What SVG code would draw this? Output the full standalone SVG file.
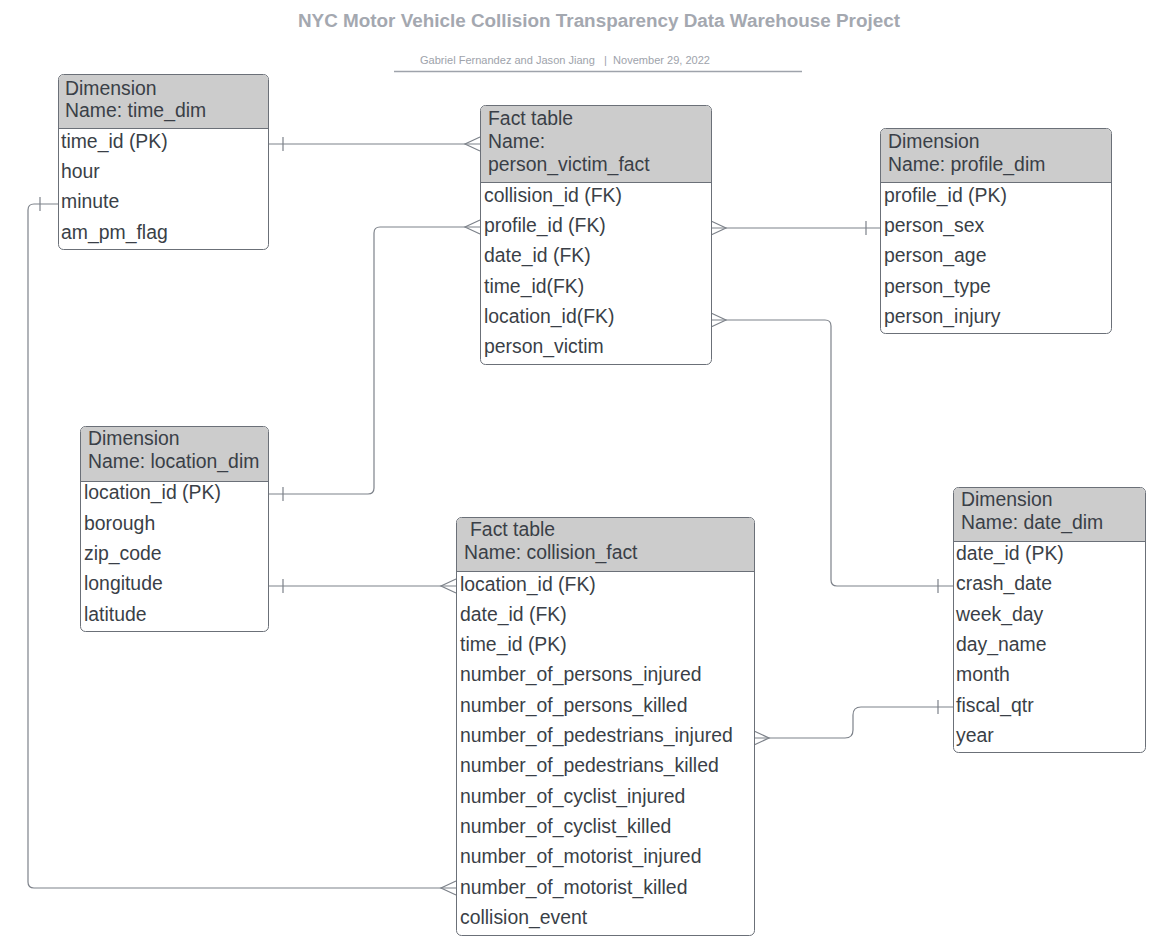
<svg xmlns="http://www.w3.org/2000/svg" width="1167" height="945" viewBox="0 0 1167 945">
<style>
.box{fill:#ffffff;stroke:#6b7078;stroke-width:1}
.hdr{fill:#cccccc}
.sep{stroke:#6b7078;stroke-width:1}
.t{font-family:"Liberation Sans",Arial,sans-serif;font-size:19.4px;fill:#3a3f47}
.c{fill:none;stroke:#7d828a;stroke-width:1.2}
.title{font-family:"Liberation Sans",Arial,sans-serif;font-size:18px;font-weight:bold;fill:#a4a8b0}
.sub{font-family:"Liberation Sans",Arial,sans-serif;font-size:11px;fill:#9ea3ab}
</style>
<rect width="1167" height="945" fill="#ffffff"/>
<g id="title">
<text class="title" x="599" y="27" text-anchor="middle" textLength="602" lengthAdjust="spacingAndGlyphs">NYC Motor Vehicle Collision Transparency Data Warehouse Project</text>
<text class="sub" x="565" y="64" text-anchor="middle" xml:space="preserve" textLength="290" lengthAdjust="spacingAndGlyphs">Gabriel Fernandez and Jason Jiang   |  November 29, 2022</text>
<line x1="394" y1="71.5" x2="802" y2="71.5" stroke="#9ea3ab" stroke-width="1.5"/>
</g>
<g id="connectors">
<path class="c" d="M268,144 H480"/>
<path class="c" d="M283,137 V151 M480,137 L465,144 L480,151"/>
<path class="c" d="M268,494 H368 Q374,494 374,488 V233 Q374,227 380,227 H480"/>
<path class="c" d="M283,487 V501 M480,220 L465,227 L480,234"/>
<path class="c" d="M711,228 H880"/>
<path class="c" d="M711,221 L726,228 L711,235 M866,221 V235"/>
<path class="c" d="M711,320 H825 Q831,320 831,326 V580 Q831,586 837,586 H953"/>
<path class="c" d="M711,313 L726,320 L711,327 M938,579 V593"/>
<path class="c" d="M268,586 H456"/>
<path class="c" d="M283,579 V593 M456,579 L441,586 L456,593"/>
<path class="c" d="M754,738 H845 Q853,738 853,730 V715 Q853,707 861,707 H953"/>
<path class="c" d="M754,731 L769,738 L754,745 M938,700 V714"/>
<path class="c" d="M58,204 H34 Q28,204 28,210 V882 Q28,888 34,888 H456"/>
<path class="c" d="M40,197 V211 M456,881 L441,888 L456,895"/>
</g>
<g id="time_dim">
<rect class="box" x="58.5" y="74.5" width="210" height="175" rx="5"/>
<path class="hdr" d="M63.5,75 H263.5 Q268,75 268,79.5 V128 H59 V79.5 Q59,75 63.5,75 Z"/>
<line class="sep" x1="58.5" y1="128.5" x2="268.5" y2="128.5"/>
<text class="t" x="65" y="95">Dimension</text>
<text class="t" x="65" y="117">Name: time_dim</text>
<text class="t" x="61" y="148">time_id (PK)</text>
<text class="t" x="61" y="178">hour</text>
<text class="t" x="61" y="208">minute</text>
<text class="t" x="61" y="239">am_pm_flag</text>
</g>
<g id="person_victim_fact">
<rect class="box" x="480.5" y="105.5" width="231" height="259" rx="5"/>
<path class="hdr" d="M485.5,106 H706.5 Q711,106 711,110.5 V182 H481 V110.5 Q481,106 485.5,106 Z"/>
<line class="sep" x1="480.5" y1="182.5" x2="711.5" y2="182.5"/>
<text class="t" x="488" y="125">Fact table</text>
<text class="t" x="488" y="148">Name:</text>
<text class="t" x="488" y="171">person_victim_fact</text>
<text class="t" x="484" y="202">collision_id (FK)</text>
<text class="t" x="484" y="232">profile_id (FK)</text>
<text class="t" x="484" y="262">date_id (FK)</text>
<text class="t" x="484" y="293">time_id(FK)</text>
<text class="t" x="484" y="323">location_id(FK)</text>
<text class="t" x="484" y="353">person_victim</text>
</g>
<g id="profile_dim">
<rect class="box" x="880.5" y="128.5" width="231" height="205" rx="5"/>
<path class="hdr" d="M885.5,129 H1106.5 Q1111,129 1111,133.5 V182 H881 V133.5 Q881,129 885.5,129 Z"/>
<line class="sep" x1="880.5" y1="182.5" x2="1111.5" y2="182.5"/>
<text class="t" x="888" y="148">Dimension</text>
<text class="t" x="888" y="171">Name: profile_dim</text>
<text class="t" x="884" y="202">profile_id (PK)</text>
<text class="t" x="884" y="232">person_sex</text>
<text class="t" x="884" y="262">person_age</text>
<text class="t" x="884" y="293">person_type</text>
<text class="t" x="884" y="323">person_injury</text>
</g>
<g id="location_dim">
<rect class="box" x="80.5" y="426.5" width="188" height="205" rx="5"/>
<path class="hdr" d="M85.5,427 H263.5 Q268,427 268,431.5 V481 H81 V431.5 Q81,427 85.5,427 Z"/>
<line class="sep" x1="80.5" y1="481.5" x2="268.5" y2="481.5"/>
<text class="t" x="88" y="445">Dimension</text>
<text class="t" x="88" y="468">Name: location_dim</text>
<text class="t" x="84" y="499">location_id (PK)</text>
<text class="t" x="84" y="530">borough</text>
<text class="t" x="84" y="560">zip_code</text>
<text class="t" x="84" y="590">longitude</text>
<text class="t" x="84" y="621">latitude</text>
</g>
<g id="collision_fact">
<rect class="box" x="456.5" y="517.5" width="298" height="418" rx="5"/>
<path class="hdr" d="M461.5,518 H749.5 Q754,518 754,522.5 V571 H457 V522.5 Q457,518 461.5,518 Z"/>
<line class="sep" x1="456.5" y1="571.5" x2="754.5" y2="571.5"/>
<text class="t" x="470" y="536">Fact table</text>
<text class="t" x="464" y="559">Name: collision_fact</text>
<text class="t" x="460" y="591">location_id (FK)</text>
<text class="t" x="460" y="621">date_id (FK)</text>
<text class="t" x="460" y="651">time_id (PK)</text>
<text class="t" x="460" y="681">number_of_persons_injured</text>
<text class="t" x="460" y="712">number_of_persons_killed</text>
<text class="t" x="460" y="742">number_of_pedestrians_injured</text>
<text class="t" x="460" y="772">number_of_pedestrians_killed</text>
<text class="t" x="460" y="803">number_of_cyclist_injured</text>
<text class="t" x="460" y="833">number_of_cyclist_killed</text>
<text class="t" x="460" y="863">number_of_motorist_injured</text>
<text class="t" x="460" y="894">number_of_motorist_killed</text>
<text class="t" x="460" y="924">collision_event</text>
</g>
<g id="date_dim">
<rect class="box" x="953.5" y="487.5" width="192" height="265" rx="5"/>
<path class="hdr" d="M958.5,488 H1140.5 Q1145,488 1145,492.5 V541 H954 V492.5 Q954,488 958.5,488 Z"/>
<line class="sep" x1="953.5" y1="541.5" x2="1145.5" y2="541.5"/>
<text class="t" x="961" y="506">Dimension</text>
<text class="t" x="961" y="529">Name: date_dim</text>
<text class="t" x="956" y="560">date_id (PK)</text>
<text class="t" x="956" y="590">crash_date</text>
<text class="t" x="956" y="621">week_day</text>
<text class="t" x="956" y="651">day_name</text>
<text class="t" x="956" y="681">month</text>
<text class="t" x="956" y="712">fiscal_qtr</text>
<text class="t" x="956" y="742">year</text>
</g>
</svg>
